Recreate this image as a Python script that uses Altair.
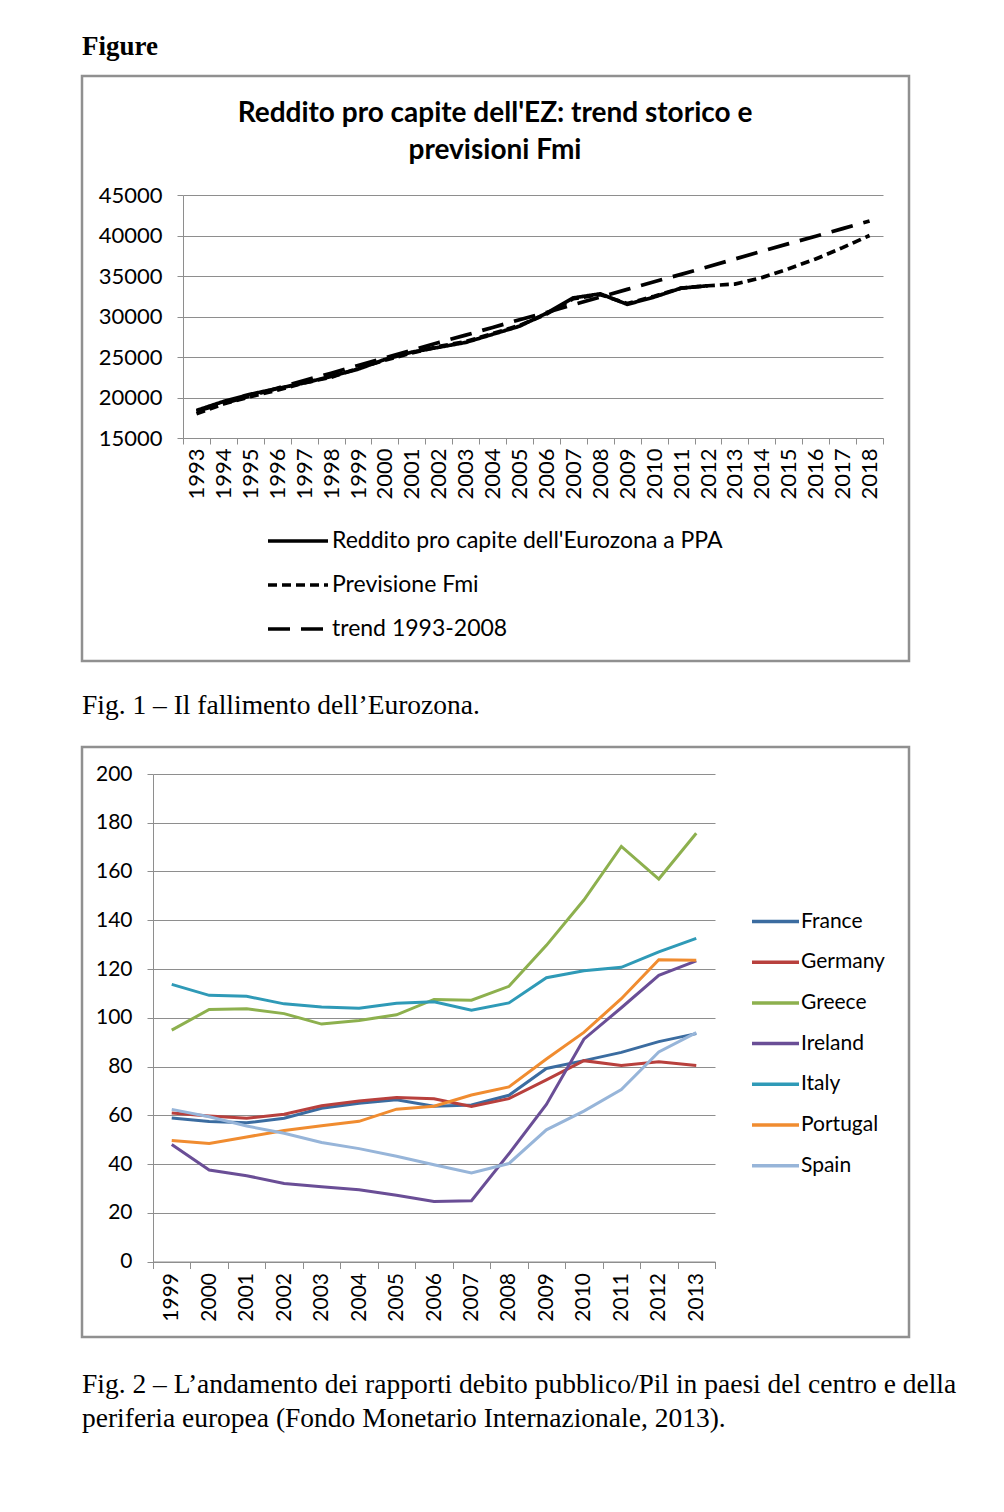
import altair as alt
import pandas as pd

# ---------------- Figure 1 data ----------------
years1 = [str(y) for y in range(1993, 2019)]
s_act = "Reddito pro capite dell'Eurozona a PPA"
s_fc = "Previsione Fmi"
s_tr = "trend 1993-2008"
series1 = [s_act, s_fc, s_tr]

actual_years = years1[:20]  # 1993-2012
actual = [18400, 19500, 20400, 21100, 21800, 22600, 23500, 24700, 25600, 26200,
          26800, 27800, 28800, 30400, 32300, 32800, 31500, 32400, 33500, 33800]
forecast = [18000, 19200, 20100, 20900, 21800, 22500, 23600, 24600, 25500, 26300,
            26900, 27900, 28900, 30300, 32200, 32700, 31600, 32500, 33500, 33800,
            34000, 34800, 35900, 37100, 38500, 40000]
trend = [18300, 19250, 20200, 21150, 22100, 23000, 23950, 24900, 25850, 26800,
         27700, 28650, 29600, 30500, 31450, 32400, 33350, 34300, 35200, 36150,
         37100, 38050, 39000, 39900, 40850, 41800]
y1_ticks = [15000, 20000, 25000, 30000, 35000, 40000, 45000]

# ---------------- Figure 2 data ----------------
years2 = [str(y) for y in range(1999, 2014)]
countries = ["France", "Germany", "Greece", "Ireland", "Italy", "Portugal", "Spain"]
colors2 = ["#3b6ca0", "#b8403d", "#8db04e", "#6a4e96", "#2f9ab7", "#f08c30", "#97b5d9"]
france = [58.9, 57.4, 56.9, 58.8, 62.9, 64.9, 66.4, 63.7, 64.2, 68.2, 79.2, 82.4, 85.8, 90.2, 93.5]
germany = [60.9, 59.7, 58.8, 60.4, 63.9, 65.8, 67.3, 66.8, 63.6, 66.8, 74.5, 82.4, 80.4, 81.9, 80.4]
greece = [94.9, 103.4, 103.7, 101.7, 97.4, 98.9, 101.2, 107.5, 107.2, 112.9, 129.7, 148.3, 170.3, 156.9, 175.7]
ireland = [48.0, 37.5, 35.2, 32.0, 30.7, 29.4, 27.2, 24.6, 24.9, 44.2, 64.4, 91.2, 104.1, 117.4, 123.3]
italy = [113.7, 109.2, 108.8, 105.7, 104.4, 103.9, 105.9, 106.6, 103.1, 106.1, 116.4, 119.3, 120.7, 127.0, 132.6]
portugal = [49.6, 48.4, 51.1, 53.7, 55.7, 57.5, 62.5, 63.7, 68.3, 71.6, 83.1, 94.0, 107.8, 123.8, 123.6]
spain = [62.4, 59.4, 55.6, 52.6, 48.8, 46.3, 43.2, 39.7, 36.3, 40.2, 54.0, 61.7, 70.5, 86.0, 93.9]
y2_ticks = list(range(0, 201, 20))

title1 = ["Reddito pro capite dell'EZ: trend storico e", "previsioni Fmi"]
caption1 = "Fig. 1 \u2013 Il fallimento dell\u2019Eurozona."
caption2 = ["Fig. 2 \u2013 L\u2019andamento dei rapporti debito pubblico/Pil in paesi del centro e della",
            "periferia europea (Fondo Monetario Internazionale, 2013)."]

# ---------------- tables ----------------
rows1 = []
for y, v in zip(actual_years, actual):
    rows1.append({"year": y, "value": v, "series": s_act})
for y, v in zip(years1, forecast):
    rows1.append({"year": y, "value": v, "series": s_fc})
for y, v in zip(years1, trend):
    rows1.append({"year": y, "value": v, "series": s_tr})
df1 = pd.DataFrame(rows1)

vals2 = [france, germany, greece, ireland, italy, portugal, spain]
rows2 = []
for c, vs in zip(countries, vals2):
    for y, v in zip(years2, vs):
        rows2.append({"year": y, "value": v, "country": c})
df2 = pd.DataFrame(rows2)

SANS = "Lato"
SERIF = "Liberation Serif"
GRID = "#8e8e8e"

# ---------------- Chart 1 ----------------
W1, H1 = 827, 585
x1 = alt.X("year:O", scale=alt.Scale(type="band", domain=years1, range=[101, 801],
                                     paddingInner=0, paddingOuter=0),
           axis=alt.Axis(title=None, labelAngle=270, labelFont=SANS, labelFontSize=22,
                         labelColor="black", domainColor=GRID, tickColor=GRID, tickSize=6,
                         tickBand="extent", labelPadding=4, offset=-223, grid=False))
y1 = alt.Y("value:Q", scale=alt.Scale(domain=[15000, 45000], range=[362, 119], nice=False, zero=False),
           axis=alt.Axis(title=None, values=y1_ticks, format="d", labelFont=SANS, labelFontSize=22,
                         labelColor="black", domainColor=GRID, tickColor=GRID, tickSize=6,
                         labelPadding=15, offset=-101, grid=True, gridColor=GRID, gridWidth=1))
dash1 = alt.StrokeDash("series:N",
                       scale=alt.Scale(domain=series1, range=[[1, 0], [9, 5], [22, 11]]),
                       legend=alt.Legend(orient="none", legendX=184, legendY=433, title=None,
                                         symbolType="stroke", symbolSize=3600, symbolStrokeWidth=3.5,
                                         symbolStrokeColor="black", labelFont=SANS, labelFontSize=23,
                                         labelColor="black", labelOffset=2, rowPadding=-1,
                                         labelLimit=0))
base1 = alt.Chart(df1).encode(x=x1, y=y1, strokeDash=dash1)
l_tr = base1.transform_filter(alt.datum.series == s_tr).mark_line(color="black", strokeWidth=3.7)
l_fc = base1.transform_filter(alt.datum.series == s_fc).mark_line(color="black", strokeWidth=3.7)
l_ac = base1.transform_filter(alt.datum.series == s_act).mark_line(color="black", strokeWidth=3.7)
t1 = alt.Chart(pd.DataFrame({"t": [0]})).mark_text(
    text=title1, font=SANS, fontSize=28, fontWeight="bold", lineHeight=37,
    align="center", baseline="middle", color="black"
).encode(x=alt.value(413), y=alt.value(38))

chart1 = alt.layer(l_tr, l_fc, l_ac, t1).properties(
    width=W1, height=H1,
    title=alt.TitleParams(caption1, orient="bottom", anchor="start", frame="group", font=SERIF,
                          fontSize=27.5, fontWeight="normal", color="black", offset=31))

# ---------------- Chart 2 ----------------
W2, H2 = 827, 590
x2 = alt.X("year:O", scale=alt.Scale(type="band", domain=years2, range=[71, 633],
                                     paddingInner=0, paddingOuter=0),
           axis=alt.Axis(title=None, labelAngle=270, labelFont=SANS, labelFontSize=21,
                         labelColor="black", domainColor=GRID, tickColor=GRID, tickSize=7,
                         tickBand="extent", labelPadding=4, offset=-75.5, grid=False))
y2 = alt.Y("value:Q", scale=alt.Scale(domain=[0, 200], range=[514.5, 27], nice=False),
           axis=alt.Axis(title=None, values=y2_ticks, labelFont=SANS, labelFontSize=21,
                         labelColor="black", domainColor=GRID, tickColor=GRID, tickSize=6,
                         labelPadding=15, offset=-71, grid=True, gridColor=GRID, gridWidth=1))
col2 = alt.Color("country:N", scale=alt.Scale(domain=countries, range=colors2),
                 legend=alt.Legend(orient="none", legendX=668, legendY=149, title=None,
                                   symbolType="stroke", symbolSize=2209, symbolStrokeWidth=3.5,
                                   labelFont=SANS, labelFontSize=21, labelColor="black",
                                   labelOffset=0, rowPadding=4.7, labelLimit=0))
chart2 = alt.Chart(df2).mark_line(strokeWidth=3).encode(x=x2, y=y2, color=col2).properties(
    width=W2, height=H2,
    title=alt.TitleParams(caption2, orient="bottom", anchor="start", frame="group", font=SERIF,
                          fontSize=27.5, fontWeight="normal", color="black", offset=34,
                          lineHeight=34))

chart = alt.vconcat(
    chart1, chart2, spacing=86, bounds="flush",
    title=alt.TitleParams("Figure", orient="top", anchor="start", frame="group", font=SERIF,
                          fontSize=27, fontWeight="bold", color="black", offset=14)
).resolve_legend(color="independent", strokeDash="independent").properties(
    padding={"left": 61, "top": 24, "right": 0, "bottom": 0}
).configure_view(stroke="#909090", strokeWidth=2.5)

chart.save("out.html", embed_options={"renderer": "svg", "actions": False})
